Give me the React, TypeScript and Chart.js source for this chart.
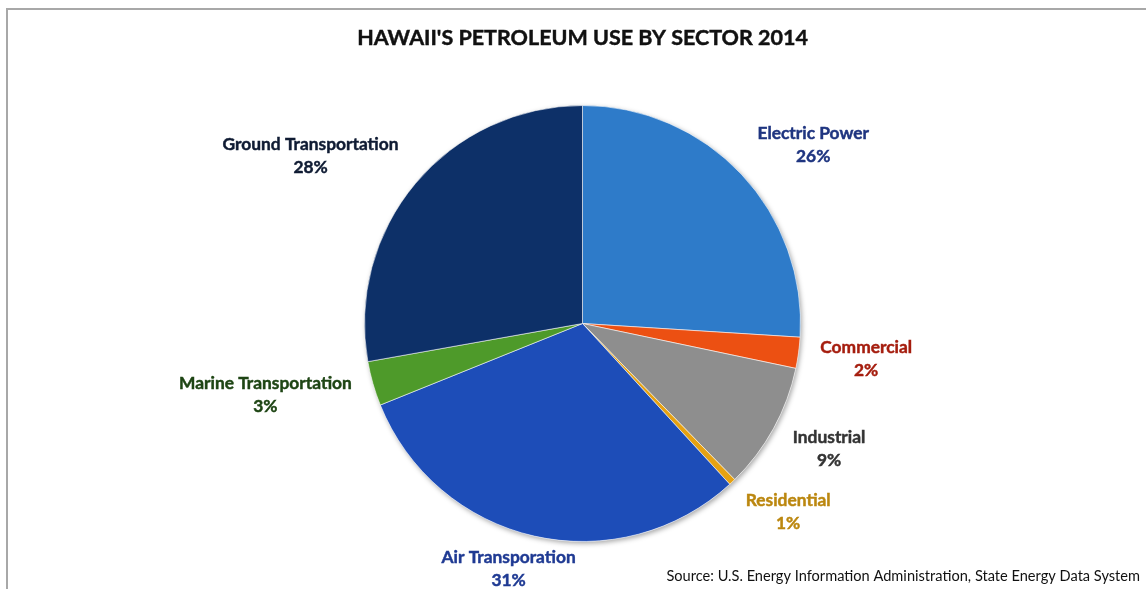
import React, { useEffect, useRef } from "react";
import { Chart, registerables } from "chart.js";

Chart.register(...registerables);

const titleText = "HAWAII'S PETROLEUM USE BY SECTOR 2014";
const sourceText = "Source: U.S. Energy Information Administration, State Energy Data System";

const categories = [
  "Electric Power",
  "Commercial",
  "Industrial",
  "Residential",
  "Air Transporation",
  "Marine Transportation",
  "Ground Transportation",
];
const shares = [26, 2.3, 9.4, 0.5, 30.7, 3.3, 27.8];
const sliceColors = ["#2e7bc9", "#ec5012", "#8e8e8e", "#e6a212", "#1d4db8", "#4e9a2a", "#0d3068"];
const labelColors = ["#1f3580", "#a51d0e", "#333333", "#bb870f", "#1f3a93", "#1e4514", "#0f1b33"];

const FONT = "Lato, 'Noto Sans', sans-serif";

function fitSize(ctx: CanvasRenderingContext2D, text: string, weight: string, target: number) {
  ctx.font = `${weight} 100px ${FONT}`;
  const w = ctx.measureText(text).width;
  return (100 * target) / w;
}

const clamp = (v: number) => Math.max(-1, Math.min(1, v));

function boldText(ctx: CanvasRenderingContext2D, text: string, x: number, y: number, color: string) {
  ctx.fillStyle = color;
  ctx.strokeStyle = color;
  ctx.lineWidth = 0.45;
  ctx.fillText(text, x, y);
  ctx.strokeText(text, x, y);
}

const decorPlugin = {
  id: "decor",
  beforeDatasetsDraw(chart: any) {
    const meta = chart.getDatasetMeta(0);
    const arc = meta.data[0];
    if (!arc) return;
    const { x, y, outerRadius } = arc.getProps(["x", "y", "outerRadius"], true);
    const ctx = chart.ctx;
    ctx.save();
    ctx.shadowColor = "rgba(0,0,0,0.35)";
    ctx.shadowBlur = 5;
    ctx.shadowOffsetX = 1.5;
    ctx.shadowOffsetY = 2;
    ctx.beginPath();
    ctx.arc(x, y, outerRadius, 0, Math.PI * 2);
    ctx.fillStyle = "#ffffff";
    ctx.fill();
    ctx.restore();
  },
  afterDraw(chart: any) {
    const ctx: CanvasRenderingContext2D = chart.ctx;
    const W = chart.width;
    const H = chart.height;
    ctx.save();

    // frame
    ctx.strokeStyle = "#a8a8a8";
    ctx.lineWidth = 2;
    ctx.beginPath();
    ctx.moveTo(7, H + 2);
    ctx.lineTo(7, 9);
    ctx.lineTo(W + 2, 9);
    ctx.stroke();

    // title
    const tSize = fitSize(ctx, titleText, "bold", 451);
    ctx.font = `bold ${tSize}px ${FONT}`;
    ctx.textAlign = "center";
    ctx.textBaseline = "middle";
    boldText(ctx, titleText, 582.5, 38.5, "#111111");

    // source
    const sSize = fitSize(ctx, sourceText, "normal", 474);
    ctx.font = `normal ${sSize}px ${FONT}`;
    ctx.fillStyle = "#111111";
    ctx.textAlign = "right";
    ctx.fillText(sourceText, 1140, 576);

    // labels
    const total = shares.reduce((a, b) => a + b, 0);
    const lSize = fitSize(ctx, "Ground Transportation", "bold", 176);
    ctx.font = `bold ${lSize}px ${FONT}`;
    ctx.textAlign = "center";
    const lineH = 23;
    const meta = chart.getDatasetMeta(0);
    meta.data.forEach((el: any, i: number) => {
      const { x, y, startAngle, endAngle, outerRadius } = el.getProps(
        ["x", "y", "startAngle", "endAngle", "outerRadius"],
        true
      );
      const mid = (startAngle + endAngle) / 2;
      const dx = Math.cos(mid);
      const dy = Math.sin(mid);
      const ax = x + dx * (outerRadius + 22);
      const ay = y + dy * (outerRadius + 10);
      const line1 = categories[i];
      const line2 = Math.round((shares[i] / total) * 100) + "%";
      const w = Math.max(ctx.measureText(line1).width, ctx.measureText(line2).width);
      const h = lineH * 2;
      const cx = ax + (w / 2) * clamp(dx * 1.4);
      const cy = ay + (h / 2) * clamp(dy * 1.4);
      boldText(ctx, line1, cx, cy - lineH / 2, labelColors[i]);
      boldText(ctx, line2, cx, cy + lineH / 2, labelColors[i]);
    });
    ctx.restore();
  },
};

export default function App() {
  const canvasRef = useRef<HTMLCanvasElement | null>(null);

  useEffect(() => {
    document.body.style.margin = "0";
    const canvas = canvasRef.current;
    if (!canvas) return;
    const chart = new Chart(canvas, {
      type: "pie",
      data: {
        labels: categories,
        datasets: [
          {
            data: shares,
            backgroundColor: sliceColors,
            borderColor: "rgba(255,255,255,0.55)",
            borderWidth: 1,
          },
        ],
      },
      options: {
        animation: false,
        responsive: false,
        maintainAspectRatio: false,
        devicePixelRatio: 1,
        layout: { padding: { top: 105, bottom: 47, left: 364, right: 345 } },
        plugins: {
          legend: { display: false },
          tooltip: { enabled: false },
          title: { display: false },
        },
      },
      plugins: [decorPlugin],
    });
    return () => chart.destroy();
  }, []);

  return (
    <div style={{ position: "absolute", left: 0, top: 0, width: 1146, height: 589, background: "#ffffff" }}>
      <canvas ref={canvasRef} width={1146} height={589} style={{ width: 1146, height: 589, display: "block" }} />
    </div>
  );
}
